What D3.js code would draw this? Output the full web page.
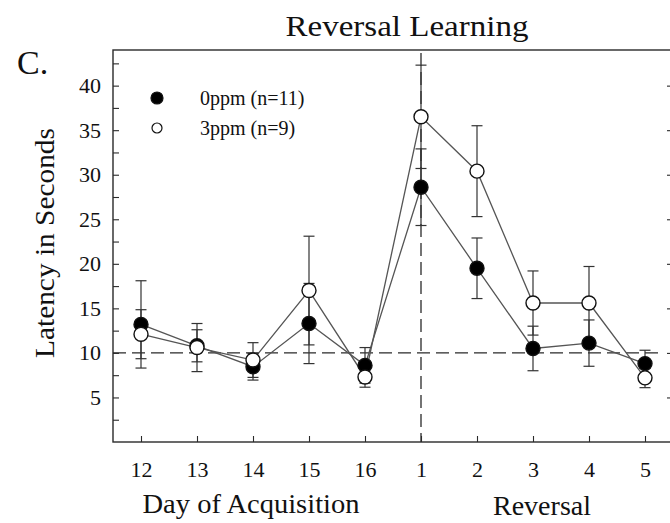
<!DOCTYPE html>
<html>
<head>
<meta charset="utf-8">
<script src="https://cdn.jsdelivr.net/npm/d3@7"></script>
<style>
  body { margin: 0; background: #fff; }
  svg { display: block; }
  text { font-family: "Liberation Serif", "Times New Roman", serif; fill: #111; }
</style>
</head>
<body>
<svg id="chart" width="670" height="523"></svg>
<script>
// ---- data ----
const dayLabels = ["12", "13", "14", "15", "16", "1", "2", "3", "4", "5"];
const ppm0Mean = [13.2, 10.8, 8.45, 13.3, 8.6, 28.6, 19.5, 10.5, 11.1, 8.8];
const ppm0Err  = [4.9, 1.8, 1.5, 4.5, 2.0, 4.3, 3.4, 2.5, 2.6, 1.5];
const ppm3Mean = [12.1, 10.6, 9.2, 17.0, 7.3, 36.5, 30.4, 15.6, 15.6, 7.2];
const ppm3Err  = [2.75, 2.7, 1.95, 6.1, 1.15, 5.8, 5.1, 3.6, 4.1, 1.1];
const yMajorTicks = [5, 10, 15, 20, 25, 30, 35, 40];
const yMinorTicks = [2.5, 7.5, 12.5, 17.5, 22.5, 27.5, 32.5, 37.5, 42.5];
const seriesNames = ["0ppm (n=11)", "3ppm (n=9)"];
const refLatency = 10;
const reversalStartIndex = 5;

// ---- layout ----
const svg = d3.select("#chart");
const L = 113, R = 673, T = 50, B = 442;
const idx = dayLabels.map((d, i) => i);
const x = d3.scaleLinear().domain([-0.5, 9.5]).range([L, R]);
const y = d3.scaleLinear().domain([0, 44]).range([B, T]);
const ink = "#2a2a2a";

// frame
svg.append("rect").attr("x", L).attr("y", T).attr("width", R - L).attr("height", B - T)
  .attr("fill", "none").attr("stroke", ink).attr("stroke-width", 1.4);

// axes
svg.append("g").attr("transform", `translate(${L},0)`)
  .call(d3.axisLeft(y).tickValues(yMajorTicks).tickSize(-6).tickPadding(12).tickFormat(d3.format("d")));
svg.append("g").attr("transform", `translate(${L},0)`)
  .call(d3.axisLeft(y).tickValues(yMinorTicks).tickSize(-6).tickFormat(""));
svg.append("g").attr("transform", `translate(${R},0)`)
  .call(d3.axisRight(y).tickValues(yMajorTicks).tickSize(-6).tickFormat(""));
svg.append("g").attr("transform", `translate(0,${B})`)
  .call(d3.axisBottom(x).tickValues(idx).tickSize(-6).tickPadding(19).tickFormat(i => dayLabels[i]));
svg.selectAll(".domain").remove();
svg.selectAll(".tick line").attr("stroke", ink).attr("stroke-width", 1.1);
svg.selectAll(".tick text").style("font-family", "Liberation Serif, serif").style("font-size", "22px").attr("fill", "#111");

// reference dashed lines
svg.append("line").attr("x1", L).attr("x2", R - 10).attr("y1", y(refLatency)).attr("y2", y(refLatency))
  .attr("stroke", ink).attr("stroke-width", 1.3).attr("stroke-dasharray", "13,6");
svg.append("line").attr("x1", x(reversalStartIndex)).attr("x2", x(reversalStartIndex)).attr("y1", B).attr("y2", T)
  .attr("stroke", ink).attr("stroke-width", 1.3).attr("stroke-dasharray", "13,6").attr("stroke-dashoffset", 4);

// series
const series = [
  { mean: ppm0Mean, err: ppm0Err, fill: "#000" },
  { mean: ppm3Mean, err: ppm3Err, fill: "#fff" }
];
const line = d3.line().x((d, i) => x(i)).y(d => y(d));
series.forEach(s => {
  svg.append("path").datum(s.mean).attr("d", line).attr("fill", "none")
    .attr("stroke", "#555").attr("stroke-width", 1.3);
});
series.forEach(s => {
  const g = svg.append("g");
  s.mean.forEach((m, i) => {
    const top = y(m + s.err[i]), bot = y(m - s.err[i]);
    g.append("line").attr("x1", x(i)).attr("x2", x(i)).attr("y1", top).attr("y2", bot)
      .attr("stroke", "#333").attr("stroke-width", 1.2);
    [top, bot].forEach(v => g.append("line").attr("x1", x(i) - 5.5).attr("x2", x(i) + 5.5)
      .attr("y1", v).attr("y2", v).attr("stroke", "#333").attr("stroke-width", 1.2));
  });
});
series.forEach(s => {
  svg.append("g").selectAll("circle").data(s.mean).join("circle")
    .attr("cx", (d, i) => x(i)).attr("cy", d => y(d)).attr("r", 7)
    .attr("fill", s.fill).attr("stroke", "#111").attr("stroke-width", 1.4);
});

// legend
const leg = [{ fill: "#000", r: 6, cy: 98 }, { fill: "#fff", r: 5, cy: 128 }];
leg.forEach((l, i) => {
  svg.append("circle").attr("cx", 157).attr("cy", l.cy).attr("r", l.r)
    .attr("fill", l.fill).attr("stroke", "#111").attr("stroke-width", 1.2);
  svg.append("text").attr("x", 200).attr("y", l.cy + 7).style("font-size", "20px").text(seriesNames[i]);
});

// titles / labels
svg.append("text").attr("x", 407).attr("y", 36).attr("text-anchor", "middle")
  .attr("textLength", 243).attr("lengthAdjust", "spacingAndGlyphs")
  .style("font-size", "30px").text("Reversal Learning");
svg.append("text").attr("x", 17).attr("y", 74).style("font-size", "34px").text("C.");
svg.append("text").attr("transform", "translate(54,243) rotate(-90)").attr("text-anchor", "middle")
  .attr("textLength", 230).attr("lengthAdjust", "spacingAndGlyphs")
  .style("font-size", "28px").text("Latency in Seconds");
svg.append("text").attr("x", 251).attr("y", 513).attr("text-anchor", "middle")
  .attr("textLength", 217).attr("lengthAdjust", "spacingAndGlyphs")
  .style("font-size", "28px").text("Day of Acquisition");
svg.append("text").attr("x", 542).attr("y", 515).attr("text-anchor", "middle")
  .attr("textLength", 98).attr("lengthAdjust", "spacingAndGlyphs")
  .style("font-size", "28px").text("Reversal");
</script>
</body>
</html>
